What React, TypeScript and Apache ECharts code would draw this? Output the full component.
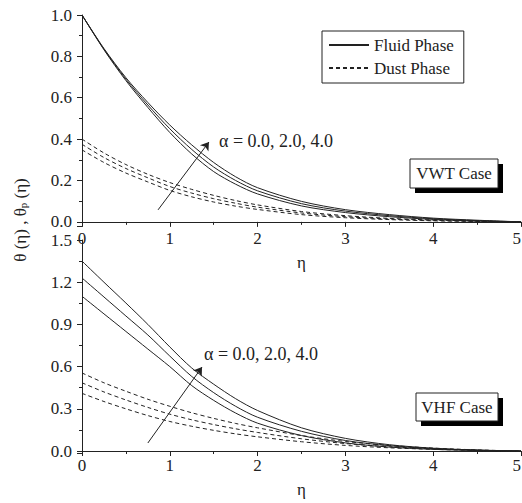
import React, { useEffect, useRef } from "react";
import * as echarts from "echarts";

const eta = [0, 0.25, 0.5, 0.75, 1.0, 1.25, 1.5, 1.75, 2.0, 2.5, 3.0, 3.5, 4.0, 4.5, 5.0];

// VWT case
const vwtFluidA0 = [1.0, 0.832, 0.683, 0.553, 0.432, 0.328, 0.243, 0.182, 0.135, 0.077, 0.045, 0.025, 0.012, 0.004, 0];
const vwtFluidA2 = [1.0, 0.835, 0.69, 0.565, 0.45, 0.35, 0.265, 0.2, 0.15, 0.088, 0.052, 0.03, 0.015, 0.006, 0];
const vwtFluidA4 = [1.0, 0.838, 0.697, 0.577, 0.468, 0.372, 0.287, 0.218, 0.165, 0.099, 0.059, 0.035, 0.018, 0.008, 0];
const vwtDustA0 = [0.348, 0.287, 0.236, 0.193, 0.152, 0.121, 0.096, 0.076, 0.06, 0.035, 0.02, 0.011, 0.005, 0.002, 0];
const vwtDustA2 = [0.375, 0.311, 0.258, 0.213, 0.171, 0.139, 0.112, 0.09, 0.071, 0.043, 0.025, 0.014, 0.007, 0.003, 0];
const vwtDustA4 = [0.4, 0.333, 0.277, 0.23, 0.19, 0.157, 0.128, 0.103, 0.082, 0.05, 0.03, 0.017, 0.009, 0.004, 0];

// VHF case
const vhfFluidA0 = [1.1, 0.975, 0.85, 0.725, 0.6, 0.465, 0.36, 0.27, 0.198, 0.11, 0.058, 0.028, 0.012, 0.004, 0];
const vhfFluidA2 = [1.23, 1.095, 0.96, 0.825, 0.675, 0.53, 0.415, 0.318, 0.24, 0.14, 0.075, 0.038, 0.017, 0.006, 0];
const vhfFluidA4 = [1.35, 1.2, 1.052, 0.9, 0.74, 0.59, 0.475, 0.372, 0.288, 0.165, 0.09, 0.045, 0.02, 0.007, 0];
const vhfDustA0 = [0.41, 0.352, 0.3, 0.252, 0.21, 0.176, 0.147, 0.122, 0.101, 0.066, 0.04, 0.023, 0.012, 0.004, 0];
const vhfDustA2 = [0.485, 0.42, 0.363, 0.31, 0.262, 0.222, 0.188, 0.158, 0.132, 0.087, 0.053, 0.031, 0.016, 0.006, 0];
const vhfDustA4 = [0.555, 0.485, 0.425, 0.368, 0.318, 0.272, 0.232, 0.196, 0.165, 0.11, 0.068, 0.04, 0.021, 0.008, 0];

const xTicks = [0, 1, 2, 3, 4, 5];
const alphaLabel = "α = 0.0, 2.0, 4.0";
const legendNames = ["Fluid Phase", "Dust Phase"];

// arrows (data coords)
const vwtArrow = [[0.866, 0.058], [1.446, 0.386]];
const vhfArrow = [[0.75, 0.057], [1.367, 0.597]];

const FONT = "'Liberation Serif', 'Times New Roman', serif";
const INK = "#222";

function pairs(ys: number[]) {
  return eta.map((x, i) => [x, ys[i]]);
}

export default function App() {
  const ref = useRef<HTMLDivElement>(null);
  useEffect(() => {
    if (!ref.current) return;
    const chart = echarts.init(ref.current, undefined, { renderer: "svg" });

    const mkSeries = (name: string, ys: number[], idx: number, dashed: boolean, arrow?: number[][]) => {
      const s: any = {
        name,
        type: "line",
        xAxisIndex: idx,
        yAxisIndex: idx,
        data: pairs(ys),
        symbol: "none",
        smooth: 0.3,
        lineStyle: { color: INK, width: 1, type: dashed ? [4, 3] : "solid" },
        itemStyle: { color: INK },
        silent: true,
      };
      if (arrow) {
        s.markLine = {
          silent: true,
          symbol: ["none", "arrow"],
          symbolSize: 8,
          label: { show: false },
          lineStyle: { color: INK, type: "solid", width: 1 },
          data: [[{ coord: arrow[0] }, { coord: arrow[1] }]],
        };
      }
      return s;
    };

    const xAxisBase = (gridIndex: number) => ({
      type: "value",
      gridIndex,
      min: 0,
      max: 5,
      interval: 1,
      name: "η",
      nameLocation: "middle",
      nameGap: 28,
      nameTextStyle: { fontFamily: FONT, fontSize: 17, color: INK },
      axisLine: { show: true, lineStyle: { color: INK, width: 1 } },
      axisTick: { show: true, inside: false, length: 5, lineStyle: { color: INK } },
      minorTick: { show: true, splitNumber: 2, length: 3, lineStyle: { color: INK } },
      splitLine: { show: false },
      axisLabel: {
        fontFamily: FONT,
        fontSize: 17,
        color: INK,
        margin: 4,
        alignMaxLabel: "right",
        formatter: (v: number) => (xTicks.includes(v) ? String(v) : ""),
      },
    });

    const yAxisBase = (gridIndex: number, min: number, max: number) => ({
      type: "value",
      gridIndex,
      min,
      max,
      splitNumber: 5,
      axisLine: { show: true, lineStyle: { color: INK, width: 1 } },
      axisTick: { show: true, inside: false, length: 5, lineStyle: { color: INK } },
      minorTick: { show: true, splitNumber: 2, length: 3, lineStyle: { color: INK } },
      splitLine: { show: false },
      axisLabel: {
        fontFamily: FONT,
        fontSize: 17,
        color: INK,
        margin: 10,
        showMinLabel: false,
        formatter: (v: number) => (Math.abs(v) < 1e-9 ? "0.0" : v.toFixed(1)),
      },
    });

    const caseBox = (x: number, y: number, w: number, h: number, text: string) => ({
      type: "group",
      children: [
        { type: "rect", shape: { x: x + 5, y: y + 5, width: w, height: h }, style: { fill: "#000" } },
        { type: "rect", shape: { x, y, width: w, height: h }, style: { fill: "#fff", stroke: INK, lineWidth: 1 } },
        {
          type: "text",
          x: x + w / 2,
          y: y + h / 2,
          style: { text, font: `17px ${FONT}`, fill: INK, textAlign: "center", textVerticalAlign: "middle" },
        },
      ],
    });

    const option: any = {
      animation: false,
      backgroundColor: "#fff",
      grid: [
        { left: 82, top: 15, width: 439, height: 211, outerBoundsMode: "none", containLabel: false },
        { left: 82, top: 240, width: 439, height: 213, outerBoundsMode: "none", containLabel: false },
      ],
      xAxis: [xAxisBase(0), xAxisBase(1)],
      yAxis: [yAxisBase(0, -0.02, 1.0), yAxisBase(1, -0.014, 1.5)],
      legend: {
        data: legendNames,
        orient: "vertical",
        left: 322,
        top: 31,
        itemWidth: 40,
        itemHeight: 14,
        itemGap: 5,
        padding: [5, 10, 6, 6],
        borderColor: INK,
        borderWidth: 1,
        backgroundColor: "#fff",
        selectedMode: false,
        itemStyle: { opacity: 0 },
        textStyle: { fontFamily: FONT, fontSize: 17, color: INK, lineHeight: 18 },
      },
      series: [
        mkSeries("Fluid Phase", vwtFluidA0, 0, false, vwtArrow),
        mkSeries("Fluid Phase", vwtFluidA2, 0, false),
        mkSeries("Fluid Phase", vwtFluidA4, 0, false),
        mkSeries("Dust Phase", vwtDustA0, 0, true),
        mkSeries("Dust Phase", vwtDustA2, 0, true),
        mkSeries("Dust Phase", vwtDustA4, 0, true),
        mkSeries("Fluid Phase", vhfFluidA0, 1, false, vhfArrow),
        mkSeries("Fluid Phase", vhfFluidA2, 1, false),
        mkSeries("Fluid Phase", vhfFluidA4, 1, false),
        mkSeries("Dust Phase", vhfDustA0, 1, true),
        mkSeries("Dust Phase", vhfDustA2, 1, true),
        mkSeries("Dust Phase", vhfDustA4, 1, true),
      ],
      graphic: [
        {
          type: "text",
          x: 219,
          y: 141,
          style: { text: alphaLabel, font: `18px ${FONT}`, fill: INK, textAlign: "left", textVerticalAlign: "middle" },
        },
        {
          type: "text",
          x: 204,
          y: 354,
          style: { text: alphaLabel, font: `18px ${FONT}`, fill: INK, textAlign: "left", textVerticalAlign: "middle" },
        },
        caseBox(410, 159, 88, 29, "VWT Case"),
        caseBox(416, 393, 82, 28, "VHF Case"),
        {
          type: "text",
          x: 20,
          y: 220,
          rotation: Math.PI / 2,
          style: {
            text: "θ (η) , θ{sub|p} (η)",
            font: `17px ${FONT}`,
            fill: INK,
            textAlign: "center",
            textVerticalAlign: "middle",
            rich: {
              sub: { fontFamily: FONT, fontSize: 11, fill: INK, verticalAlign: "bottom", lineHeight: 12, padding: [8, 0, 0, 0] },
            },
          },
        },
      ],
    };
    chart.setOption(option);
    return () => chart.dispose();
  }, []);
  return <div ref={ref} style={{ position: "absolute", left: 0, top: 0, width: 522, height: 503 }} />;
}
